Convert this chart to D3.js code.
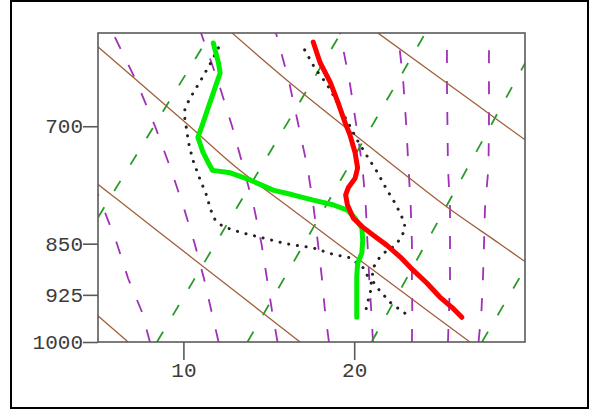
<!DOCTYPE html>
<html>
<head>
<meta charset="utf-8">
<script src="https://cdn.jsdelivr.net/npm/d3@7"></script>
<style>
  body { margin: 0; background: #fff; }
  svg { display: block; }
  .tick text { font-family: "Liberation Mono", monospace; font-size: 21px; fill: #3c3c3c; }
</style>
</head>
<body>
<svg id="chart" width="589" height="410"></svg>
<script>
// axis ticks
const pressureTicks = [700, 850, 925, 1000];
const tempTicks = [10, 20];

// profiles: [value, pressure]
const tempProfile = [[17.6,609],[18.0,630],[18.6,651],[19.05,673],[19.45,695],[19.75,710],[20.05,731],[20.2,750],[20.05,763],[19.65,775],[19.5,784],[19.6,797],[19.95,815],[20.5,827],[21.1,838],[21.9,852],[22.7,869],[23.45,888],[24.25,907],[25.0,928],[25.75,945],[26.3,960]];
const dewProfile = [[11.75,610],[12.05,630],[12.15,641],[11.85,657],[11.45,679],[11.1,699],[10.85,713],[11.15,731],[11.45,743],[11.7,753],[12.75,756],[13.9,765],[15.25,778],[16.4,784],[17.6,791],[18.75,797],[19.6,804],[20.05,815],[20.45,828],[20.5,845],[20.45,863],[20.2,878],[20.15,898],[20.15,933],[20.15,960]];
const tempProfile2 = [[17.1,617],[17.7,636],[18.4,653],[18.9,669],[19.3,684],[19.7,698],[20.2,717],[20.8,737],[21.35,755],[21.9,777],[22.45,797],[22.95,821],[22.95,832],[22.45,852],[21.9,860],[21.5,869],[21.1,885],[21.05,903],[21.5,919],[22.2,939],[23.1,956]];
const dewProfile2 = [[12.05,615],[11.55,632],[10.95,651],[10.4,668],[10.1,679],[10.05,687],[10.15,699],[10.3,719],[10.55,740],[10.95,763],[11.4,787],[11.55,801],[11.85,817],[12.3,826],[13.3,834],[14.5,841],[16.0,850],[17.6,856],[18.75,865],[19.75,870],[20.55,885],[21.05,910],[20.85,930],[20.65,952]];

// background guide lines
const guideLevels = [1000, 950, 900, 850, 800, 750, 700, 650, 600];
const purpleLines = [
  [8.04, 7.55, 6.76, 6.11, 5.29, 4.38, 3.28, 1.97, 0.41],
  [12.06, 11.64, 11.2, 10.66, 10.01, 9.24, 8.34, 7.25, 5.87],
  [15.51, 15.19, 14.89, 14.57, 14.13, 13.52, 12.85, 12.03, 11.03],
  [18.52, 18.29, 18.11, 17.88, 17.62, 17.27, 16.75, 16.18, 15.42],
  [21.1, 21.0, 20.88, 20.78, 20.68, 20.49, 20.13, 19.73, 19.17],
  [23.38, 23.4, 23.38, 23.38, 23.31, 23.18, 23.05, 22.87, 22.56],
  [25.49, 25.55, 25.61, 25.61, 25.61, 25.49, 25.46, 25.43, 25.43],
  [27.28, 27.45, 27.54, 27.6, 27.66, 27.86, 27.89, 27.89, 27.89]
];
const greenLines = [
  [[5, 814], [11.62, 600]],
  [[8.45, 1000], [19.22, 600]],
  [[13.75, 1000], [24.17, 600]],
  [[21.02, 1000], [30.98, 600]],
  [[27.48, 1000], [38.07, 600]]
];
const brownLines = [
  [[6.76,1000],[4.67,950],[2.47,900]],
  [[16.83,1000],[14.5,950],[12.04,900],[9.45,850],[6.7,800],[3.8,750],[1.0,700]],
  [[26.78,1000],[24.32,950],[21.75,900],[19.03,850],[16.17,800],[13.14,750],[10.37,700],[7.35,650],[4.05,600]],
  [[36.73,1000],[34.15,950],[31.4,900],[28.51,850],[25.43,800],[22.48,750],[19.4,700],[16.15,650],[12.85,600]],
  [[35.5,800],[32.3,750],[28.9,700],[25.3,650],[21.39,600]]
];

const svg = d3.select("#chart");
const plotL = 98, plotR = 525, plotT = 33, plotB = 342;

const x = d3.scaleLinear().domain([5, 30]).range([plotL, plotR]);
const y = d3.scaleLog().domain([1000, 600]).range([plotB, plotT]);

// outer frame
svg.append("rect")
  .attr("x", 11).attr("y", 1).attr("width", 577).attr("height", 407)
  .attr("fill", "none").attr("stroke", "#000").attr("stroke-width", 2);

svg.append("clipPath").attr("id", "plotclip")
  .append("rect").attr("x", plotL).attr("y", plotT)
  .attr("width", plotR - plotL).attr("height", plotB - plotT);

const line = d3.line().x(d => x(d[0])).y(d => y(d[1]));
const smoothLine = d3.line().x(d => x(d[0])).y(d => y(d[1])).curve(d3.curveMonotoneY);

const guides = svg.append("g").attr("clip-path", "url(#plotclip)");

guides.selectAll(".mix")
  .data(purpleLines)
  .join("path")
  .attr("d", vals => line(vals.map((v, i) => [v, guideLevels[i]])))
  .attr("fill", "none")
  .attr("stroke", "#a030b8")
  .attr("stroke-width", 1.8)
  .attr("stroke-dasharray", "13,18");

guides.selectAll(".moist")
  .data(greenLines)
  .join("path")
  .attr("d", line)
  .attr("fill", "none")
  .attr("stroke", "#2a9a2a")
  .attr("stroke-width", 1.8)
  .attr("stroke-dasharray", "12,19");

guides.selectAll(".dry")
  .data(brownLines)
  .join("path")
  .attr("d", smoothLine)
  .attr("fill", "none")
  .attr("stroke", "#a0603a")
  .attr("stroke-width", 1.3);

// dotted profiles
[tempProfile2, dewProfile2].forEach(prof => {
  svg.append("path")
    .attr("d", line(prof))
    .attr("fill", "none")
    .attr("stroke", "#222")
    .attr("stroke-width", 3)
    .attr("stroke-linecap", "round")
    .attr("stroke-dasharray", "0.1,8.7");
});

// main profiles
svg.append("path")
  .attr("d", line(dewProfile))
  .attr("fill", "none")
  .attr("stroke", "#00ee00")
  .attr("stroke-width", 5)
  .attr("stroke-linejoin", "round")
  .attr("stroke-linecap", "round");

svg.append("path")
  .attr("d", line(tempProfile))
  .attr("fill", "none")
  .attr("stroke", "#ff0000")
  .attr("stroke-width", 5)
  .attr("stroke-linejoin", "round")
  .attr("stroke-linecap", "round");

// plot frame
svg.append("rect")
  .attr("x", plotL).attr("y", plotT).attr("width", plotR - plotL).attr("height", plotB - plotT)
  .attr("fill", "none").attr("stroke", "#5a5a5a").attr("stroke-width", 1.6);

// axes
const yAxis = svg.append("g")
  .attr("transform", `translate(${plotL},0)`)
  .call(d3.axisLeft(y).tickValues(pressureTicks).tickFormat(d3.format("d")).tickSize(15).tickPadding(0));
const xAxis = svg.append("g")
  .attr("transform", `translate(0,${plotB})`)
  .call(d3.axisBottom(x).tickValues(tempTicks).tickSize(18).tickPadding(2));

[yAxis, xAxis].forEach(g => {
  g.select(".domain").remove();
  g.selectAll(".tick line").attr("stroke", "#5a5a5a").attr("stroke-width", 1.6);
});
</script>
</body>
</html>
